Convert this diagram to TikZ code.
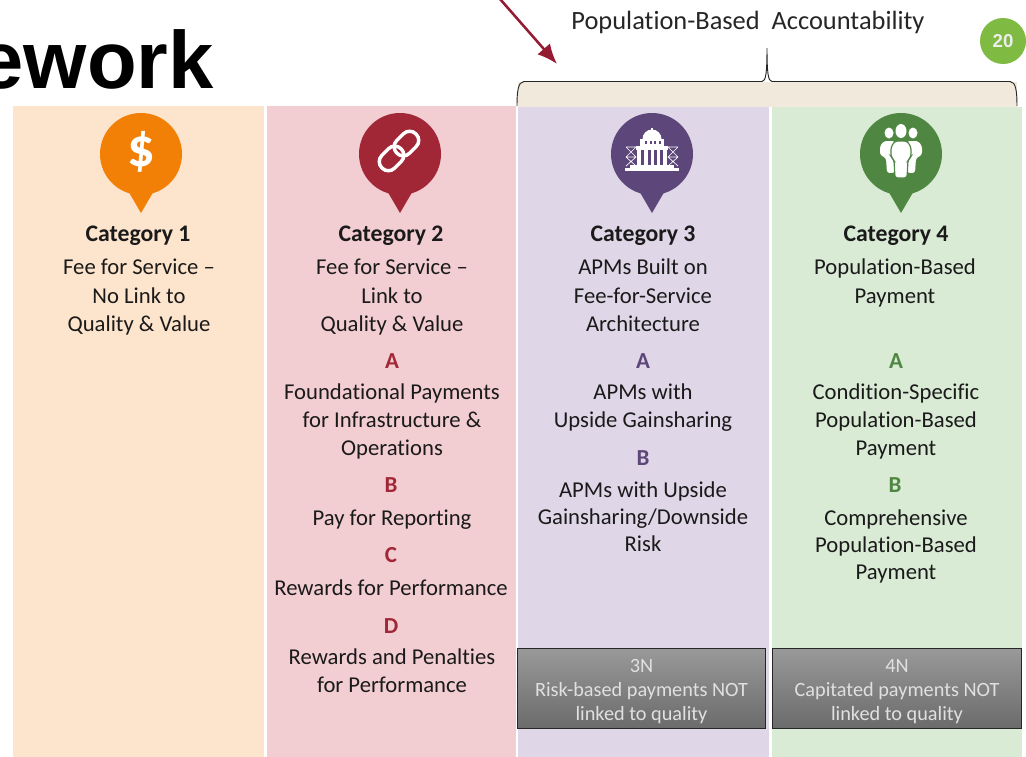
\documentclass[tikz,border=0pt]{standalone}
\usepackage{fontspec}
\usetikzlibrary{arrows.meta}
\setmainfont{Carlito}[Ligatures=CommonOff]
\newfontfamily\titlefont{Liberation Sans}
\definecolor{cA}{HTML}{FDE4CC}
\definecolor{cB}{HTML}{F2CDD2}
\definecolor{cC}{HTML}{DFD6E7}
\definecolor{cD}{HTML}{D9EAD5}
\definecolor{pA}{HTML}{F28007}
\definecolor{pB}{HTML}{A12737}
\definecolor{pC}{HTML}{5D4679}
\definecolor{pD}{HTML}{4F8641}
\definecolor{band}{HTML}{F1E9DC}
\definecolor{badge}{HTML}{7FBA42}
\definecolor{arrowred}{HTML}{951B32}
\definecolor{txt}{HTML}{1A1A1A}
\tikzset{
  x=0.75pt,y=-0.75pt,
  body/.style={align=center,text=txt,font=\fontsize{17}{21}\selectfont,inner sep=0pt},
  bodyw/.style={body,anchor=north,font=\fontsize{17}{21.5}\selectfont},
  bodyn/.style={body,anchor=north,font=\fontsize{17}{21}\selectfont},
  bodyt/.style={body,anchor=north,font=\fontsize{17}{20.6}\selectfont},
  head/.style={body,font=\fontsize{17.8}{21}\selectfont\bfseries},
  letter/.style={body,font=\fontsize{17.2}{21}\selectfont\bfseries},
  nbox/.style={draw=black!85,line width=0.8pt,top color=black!40,bottom color=black!58,
    minimum width=186.5pt,minimum height=60pt,inner sep=0pt,align=center,text=black!12,
    font=\fontsize{15.2}{18}\selectfont},
}
\begin{document}
\begin{tikzpicture}
\useasboundingbox (0,0) rectangle (1026,757);
\fill[white] (0,0) rectangle (1026,757);
% columns
\fill[cA] (13,106) rectangle (264,757);
\fill[cB] (267,106) rectangle (516,757);
\fill[band] (518,81.5) -- (1017,81.5) -- (1017,107) -- (518,107) -- cycle;
\fill[cC] (518,107) rectangle (769,757);
\fill[cD] (772,107) rectangle (1022,757);
% title
\begin{scope}
\clip (0,0) rectangle (300,105);
\node[anchor=base east,inner sep=0pt,font=\titlefont\bfseries\fontsize{61}{66}\selectfont] (title) at (214,88) {ework};
\end{scope}
% brace
\node[anchor=base,inner sep=0pt,text=black!85,font=\fontsize{19.8}{24}\selectfont] (pba) at (748,29) {Population-Based\ \ Accountability};
\draw[line width=0.7pt,black!85] (517,106) .. controls (517,92) and (518,81.5) .. (524,81.5) -- (762,81.5) .. controls (766,81.5) and (767,72) .. (767,48) .. controls (767,72) and (768,81.5) .. (772,81.5) -- (1010,81.5) .. controls (1016,81.5) and (1017,92) .. (1017,106);
% arrow
\coordinate (arrA) at (500,-1);
\coordinate (arrB) at (557,64);
\draw[arrowred,line width=1.9pt,-{Latex[length=15pt,width=12.5pt]}] (arrA) -- (arrB);
% badge
\node[circle,fill=badge,minimum size=34.5pt,inner sep=0pt,text=white!93!black,font=\fontsize{14}{14}\selectfont\bfseries] (badge) at (1003,41) {\titlefont 20};
% pins
\fill[pA] (141,154) circle[radius=41]; \fill[pA] (127,189) -- (141,213) -- (155,189) -- cycle;
\fill[pB] (400,154) circle[radius=41]; \fill[pB] (386,189) -- (400,213) -- (414,189) -- cycle;
\fill[pC] (652,154) circle[radius=41]; \fill[pC] (638,189) -- (652,213) -- (666,189) -- cycle;
\fill[pD] (901,154) circle[radius=41]; \fill[pD] (887,189) -- (901,213) -- (915,189) -- cycle;
\node[text=white,inner sep=0pt,font=\bfseries\fontsize{41}{41}\selectfont] (dollar) at (141,152) {\$};
% link icon
\begin{scope}[shift={(399,151)},rotate=45,white,line width=2.6pt]
\draw[rounded corners=6.5pt] (-24,-9) rectangle (3,9);
\draw[rounded corners=6.5pt] (-3,-9) rectangle (24,9);
\end{scope}
% capitol icon
\begin{scope}[white]
\fill (625,168) rectangle (679,171);
\fill (630,165) rectangle (674,168);
\fill (636,146) rectangle (668,150);
\fill (637,150) rectangle (641,165);
\fill (644,150) rectangle (648,165);
\fill (651,150) rectangle (654,165);
\fill (657,150) rectangle (660,165);
\fill (663,150) rectangle (667,165);
\fill (642.5,139) arc[start angle=180,end angle=360,radius=9.5] -- cycle;
\fill (640,139) rectangle (664,146);
\fill (651.3,128) rectangle (652.7,134);
\foreach \n in {645,649.5,654,658.5} \fill[pC] (\n,140.5) rectangle +(2,3);
\draw[line width=0.5pt] (626,147) -- (636,147) (626,147) -- (636,157) -- (626,166) (636,147) -- (626,157) -- (636,166) (626,157)--(636,157);
\draw[line width=0.5pt] (668,147) -- (678,147) (668,147) -- (678,157) -- (668,166) (678,147) -- (668,157) -- (678,166) (668,157)--(678,157);
\end{scope}
% people icon
\begin{scope}
\fill[white] (889,133) ellipse[x radius=4.5,y radius=5.5];
\fill[white] (913,133) ellipse[x radius=4.5,y radius=5.5];
\fill[white,rounded corners=2pt] (880,146) -- (884,141) -- (895,141) -- (895,172) -- (892,173) -- (887,173) -- (886,158) -- (880,155) -- cycle;
\fill[white,rounded corners=2pt] (922,146) -- (918,141) -- (907,141) -- (907,172) -- (910,173) -- (915,173) -- (916,158) -- (922,155) -- cycle;
\draw[pD,line width=0.9pt,fill=white,rounded corners=2pt] (891,147) -- (895,141) -- (907,141) -- (911,147) -- (911,157) -- (908,160) -- (907,178) -- (895,178) -- (894,160) -- (891,157) -- cycle;
\fill[white] (901,131) ellipse[x radius=5.5,y radius=7];
\end{scope}
% column 1
\node[head] (c1) at (138,236) {Category 1};
\node[bodyw] (c1t) at (139,258.5) {Fee for Service --\\No Link to\\Quality \& Value};
% column 2
\node[head] (c2) at (391,236) {Category 2};
\node[bodyw] (c2t) at (392,258.5) {Fee for Service --\\Link to\\Quality \& Value};
\node[letter,text=pB] (c2a) at (392,361) {A};
\node[bodyn] (c2at) at (392,383) {Foundational Payments\\for Infrastructure \&\\Operations};
\node[letter,text=pB] (c2b) at (391,485) {B};
\node[body] (c2bt) at (392,520) {Pay for Reporting};
\node[letter,text=pB] (c2c) at (391,555) {C};
\node[body] (c2ct) at (391,588) {Rewards for Performance};
\node[letter,text=pB] (c2d) at (391,626) {D};
\node[bodyn] (c2dt) at (392,648) {Rewards and Penalties\\for Performance};
% column 3
\node[head] (c3) at (643,236) {Category 3};
\node[bodyw] (c3t) at (643,258.5) {APMs Built on\\Fee-for-Service\\Architecture};
\node[letter,text=pC] (c3a) at (643,361) {A};
\node[bodyn] (c3at) at (643,383) {APMs with\\Upside Gainsharing};
\node[letter,text=pC] (c3b) at (643,458) {B};
\node[bodyt] (c3bt) at (643,481) {APMs with Upside\\Gainsharing/Downside\\Risk};
% column 4
\node[head] (c4) at (896,236) {Category 4};
\node[bodyw] (c4t) at (895,258.5) {Population-Based\\Payment};
\node[letter,text=pD] (c4a) at (896,361) {A};
\node[bodyn] (c4at) at (896,383) {Condition-Specific\\Population-Based\\Payment};
\node[letter,text=pD] (c4b) at (895,485) {B};
\node[bodyt] (c4bt) at (896,509) {Comprehensive\\Population-Based\\Payment};
% grey boxes
\node[nbox] (n3) at (641.5,688.5) {\rule{0pt}{14pt}3N\\Risk-based payments NOT\\linked to quality};
\node[nbox] (n4) at (897,688.5) {\rule{0pt}{14pt}4N\\Capitated payments NOT\\linked to quality};
\end{tikzpicture}
\end{document}
